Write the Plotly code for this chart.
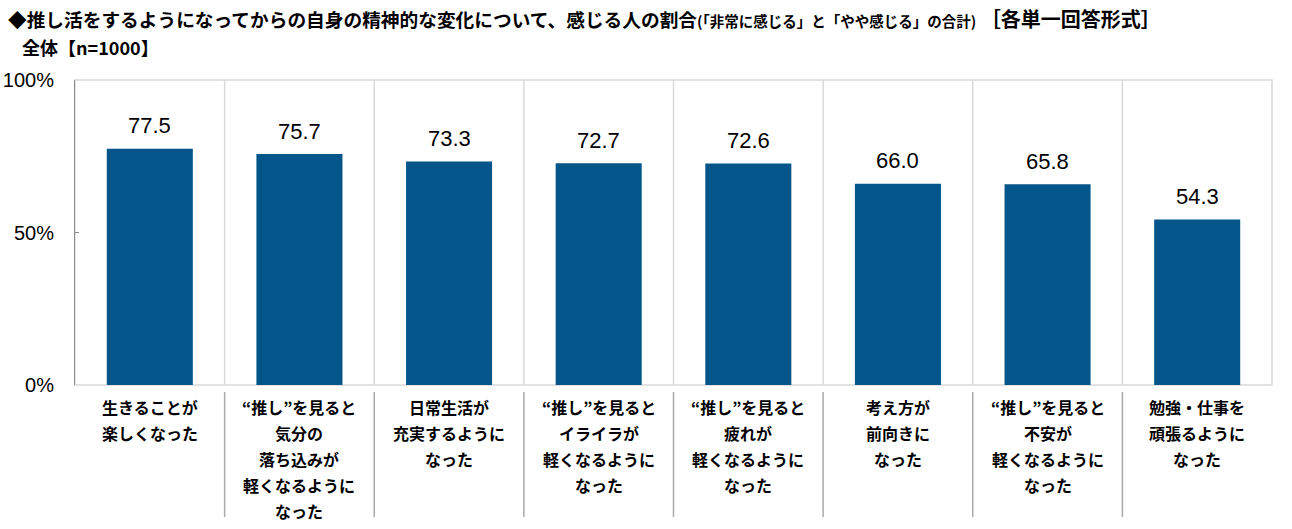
import plotly.graph_objects as go

categories = [
    ["生きることが", "楽しくなった"],
    ["“推し”を見ると", "気分の", "落ち込みが", "軽くなるように", "なった"],
    ["日常生活が", "充実するように", "なった"],
    ["“推し”を見ると", "イライラが", "軽くなるように", "なった"],
    ["“推し”を見ると", "疲れが", "軽くなるように", "なった"],
    ["考え方が", "前向きに", "なった"],
    ["“推し”を見ると", "不安が", "軽くなるように", "なった"],
    ["勉強・仕事を", "頑張るように", "なった"],
]
values = [77.5, 75.7, 73.3, 72.7, 72.6, 66.0, 65.8, 54.3]
y_ticks = [0, 50, 100]
y_tick_labels = ["0%", "50%", "100%"]
title_main = "◆推し活をするようになってからの自身の精神的な変化について、感じる人の割合"
title_note = "(「非常に感じる」と「やや感じる」の合計)"
title_form = " ［各単一回答形式］"
subtitle = "全体【n=1000】"

BAR = "#03558A"
JP = "Noto Sans CJK JP"
NUM = "Liberation Sans, Arial"

W, H = 1292, 529
L, R, T, B = 75, 20, 80, 144
PH = H - T - B
PW = W - L - R

n = len(values)
xs = list(range(n))

fig = go.Figure()
fig.add_trace(go.Bar(
    x=xs, y=values, marker=dict(color=BAR, line=dict(width=0)),
    width=0.575, hoverinfo="skip",
))

ann = []
for i, v in enumerate(values):
    ann.append(dict(x=i, y=v, xref="x", yref="y", text=f"{v:.1f}", showarrow=False,
                    yanchor="middle", yshift=23,
                    font=dict(family=NUM, size=22, color="#000000")))
for i, lines in enumerate(categories):
    for j, line in enumerate(lines):
        ann.append(dict(x=i, y=-(22 + 26 * j) / PH, xref="x", yref="paper",
                        text=f"<b>{line}</b>", showarrow=False, yanchor="middle",
                        font=dict(family=JP, size=16, color="#000000")))


def px_x(wx):
    return (wx - L) / PW


def px_y(wy):
    return (H - B - wy) / PH


ann.append(dict(x=px_x(6), y=px_y(18), xref="paper", yref="paper",
                xanchor="left", yanchor="middle", showarrow=False,
                text=f"<b>{title_main}</b><span style='font-size:14.5px'><b>{title_note}</b></span>"
                     f"<span style='font-size:20px'><b>{title_form}</b></span>",
                font=dict(family=JP, size=18.7, color="#000000")))
ann.append(dict(x=px_x(20), y=px_y(47), xref="paper", yref="paper",
                xanchor="left", yanchor="middle", showarrow=False,
                text=f"<b>{subtitle}</b>",
                font=dict(family=JP, size=18, color="#000000")))

shapes = []
shapes.append(dict(type="rect", xref="paper", yref="paper", x0=0, x1=1, y0=0, y1=1,
                   line=dict(color="#D9D9D9", width=1.5), layer="below"))
for k in range(1, n):
    shapes.append(dict(type="line", xref="x", yref="paper", x0=k - 0.5, x1=k - 0.5, y0=0, y1=1,
                       line=dict(color="#D9D9D9", width=1.5), layer="below"))
    shapes.append(dict(type="line", xref="x", yref="paper", x0=k - 0.5, x1=k - 0.5,
                       y0=-7 / PH, y1=-132 / PH,
                       line=dict(color="#AAAAAA", width=1.5)))

fig.update_layout(
    width=W, height=H,
    margin=dict(l=L, r=R, t=T, b=B, autoexpand=False),
    paper_bgcolor="white", plot_bgcolor="white",
    showlegend=False,
    annotations=ann, shapes=shapes,
    xaxis=dict(range=[-0.5, n - 0.5], showticklabels=False, showgrid=False,
               zeroline=False, showline=False, ticks="", fixedrange=True, automargin=False),
    yaxis=dict(range=[0, 100], tickvals=y_ticks, ticktext=y_tick_labels,
               showgrid=False, zeroline=False, showline=True, linecolor="#8C8C8C",
               linewidth=1, ticks="inside", ticklen=4, tickcolor="#8C8C8C",
               ticklabelstandoff=16, automargin=False,
               tickfont=dict(family=NUM, size=20, color="#000000"), fixedrange=True),
)

fig.write_html("out.html", config={"displayModeBar": False},
               post_script="document.body.style.margin='0';")
